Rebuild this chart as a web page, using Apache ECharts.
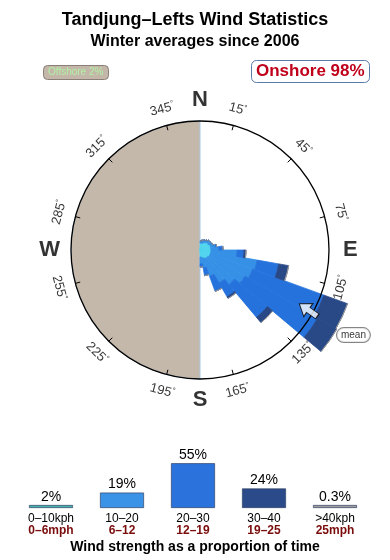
<!DOCTYPE html>
<html><head><meta charset="utf-8">
<script src="https://cdn.jsdelivr.net/npm/echarts@6/dist/echarts.min.js"></script>
<style>html,body{margin:0;padding:0;background:#fff}#c{width:390px;height:560px}</style>
</head><body><div id="c"></div>
<script>
// ---- data ----
// direction sectors (start bearing of each 10° sector)
const directions = Array.from({length:36}, (_, i) => (i*10) + '°');
// radial lengths of each speed band per sector (units: ring radius = 100)
const band0_10  = [5.4,5.4,6.2,7.0,7.8,7.8,8.5,8.5,8.5,8.5,8.5,8.5,8.5,7.8,7.8,7.0,6.2,5.4, 0,0,0,0,0,0,0,0,0,0,0,0,0,0,0,0,0,0];
const band10_20 = [1.6,2.4,2.3,2.3,2.3,2.3,2.4,3.9,6.2,20.2,36.5,34.9,31.8,27.1,21.7,14.7,7.8,5.4, 0,0,0,0,0,0,0,0,0,0,0,0,0,0,0,0,0,0];
const band20_30 = [0,0,0,0,0,0,0,0.8,3.1,5.4,17.0,58.9,65.1,33.3,12.4,12.4,6.2,2.4, 0,0,0,0,0,0,0,0,0,0,0,0,0,0,0,0,0,0];
const band30_40 = [0,0,0,0,0,0,0,0,0,1.6,7.8,19.4,17.1,5.4,1.5,0,0,0, 0,0,0,0,0,0,0,0,0,0,0,0,0,0,0,0,0,0];
const band40p   = [0,0,0,0,0,0,0,0,0,0,0,0,0,0,0,0,0,0, 0,0,0,0,0,0,0,0,0,0,0,0,0,0,0,0,0,0];

const speedKph = ['0–10kph','10–20','20–30','30–40','>40kph'];
const speedMph = ['0–6mph','6–12','12–19','19–25','25mph'];
const speedShare = [2, 19, 55, 24, 0.3];
const shareLabels = ['2%','19%','55%','24%','0.3%'];

const tickBearings = [15,45,75,105,135,165,195,225,255,285,315,345];
const cardinalNames = ['N','E','S','W'];
const cardinalBearings = [0,90,180,270];
const meanDirection = 119;
const offshorePct = 2, onshorePct = 98;
const offshoreArc = [180, 180]; // onshore half (E), offshore half (W)

// ---- styles ----
const FF = 'Liberation Sans, Arial, Helvetica, sans-serif';
const C = [200, 250], R = 129;
const roseColors = ['#50D4EE','#3590E6','#2672DC','#284886','#9a9a9a'];
const legendColors = ['#47B3AE','#3A93E6','#2B72DD','#2B4A8A','#9E9E9E'];
const OFFSET = 15; // angle axis 0 sits at bearing 15

function rot(b){ b = ((b%360)+360)%360; if (b < 90 || b > 270) return b > 270 ? 360-b : -b; return 180-b; }
function ang(b){ return ((b-OFFSET)%360+360)%360; }

const chart = echarts.init(document.getElementById('c'), null, {renderer:'canvas'});
const bands = [band0_10, band10_20, band20_30, band30_40, band40p];

const roseSeries = bands.map((d, k) => ({
  type:'bar', coordinateSystem:'polar', polarIndex:1, stack:'rose', data:d,
  barCategoryGap:'0%', barGap:'0%', clip:false, silent:true, z:3,
  itemStyle:{color:roseColors[k], borderColor:roseColors[k], borderWidth:0.8}
}));

chart.setOption({
  animation:false,
  textStyle:{fontFamily:FF},
  title:[
    {text:'Tandjung–Lefts Wind Statistics', left:'center', top:6, textStyle:{fontSize:18, fontWeight:'bold', color:'#000', fontFamily:FF}},
    {text:'Winter averages since 2006', left:'center', top:29, textStyle:{fontSize:16, fontWeight:'bold', color:'#000', fontFamily:FF}},
    {text:'Offshore ' + offshorePct + '%', left:43, top:65, padding:[2,5], backgroundColor:'#C3B7A9', borderColor:'#8a8078', borderWidth:1, borderRadius:4,
      textStyle:{fontSize:10, lineHeight:11, fontWeight:'normal', color:'#B2F2A4', fontFamily:FF}},
    {text:'Onshore ' + onshorePct + '%', left:251, top:60, padding:[2,5], backgroundColor:'#fff', borderColor:'#5A7AAA', borderWidth:1, borderRadius:5,
      textStyle:{fontSize:17, lineHeight:19, fontWeight:'bold', color:'#C0001A', fontFamily:FF}},
    {text:'Wind strength as a proportion of time', left:'center', top:535, textStyle:{fontSize:14, fontWeight:'bold', color:'#000', fontFamily:FF}}
  ],
  polar:[{center:C, radius:R}, {center:C, radius:R}],
  angleAxis:[
    {polarIndex:0, type:'value', min:0, max:360, interval:30, startAngle:90-OFFSET, clockwise:true, z:10,
      axisLine:{lineStyle:{color:'#000', width:1.3}}, axisTick:{inside:true, length:5, lineStyle:{color:'#000', width:1}},
      axisLabel:{show:false}, splitLine:{show:false}},
    {polarIndex:1, type:'category', data:directions, startAngle:90, clockwise:true, boundaryGap:true,
      axisLine:{show:false}, axisTick:{show:false}, axisLabel:{show:false}, splitLine:{show:false}}
  ],
  radiusAxis:[
    {polarIndex:0, type:'value', min:0, max:100, show:false},
    {polarIndex:1, type:'value', min:0, max:100, show:false}
  ],
  grid:{left:15.5, width:355, top:451, height:57},
  xAxis:{type:'category', data:speedKph, axisLine:{show:false}, axisTick:{show:false},
    axisLabel:{interval:0, margin:5, formatter:(v,i)=>'{k|'+speedKph[i]+'}\n{m|'+speedMph[i]+'}',
      rich:{k:{fontSize:12, lineHeight:12, color:'#000', fontFamily:FF}, m:{fontSize:12, lineHeight:12, fontWeight:'bold', color:'#7A0C0C', fontFamily:FF}}}},
  yAxis:{type:'value', min:0, max:70, show:false},
  series:[
    {type:'pie', center:C, radius:R, startAngle:90, clockwise:true, silent:true, z:1,
      label:{show:false}, labelLine:{show:false}, emphasis:{disabled:true},
      data:[{value:offshoreArc[0], itemStyle:{color:'rgba(0,0,0,0)'}},
            {value:offshoreArc[1], itemStyle:{color:'#C4B8AB', borderColor:'#A6C8EA', borderWidth:1}}]},
    ...roseSeries,
    {type:'scatter', coordinateSystem:'polar', polarIndex:0, symbolSize:0, clip:false, silent:true, z:11,
      data:tickBearings.map(b=>({value:[113, ang(b)], label:{rotate:rot(b), formatter:'{a|'+b+'}{d|°}'}})),
      label:{show:true, position:'inside', color:'#000',
        rich:{a:{fontSize:13, color:'#000', fontFamily:FF}, d:{fontSize:8, color:'#000', padding:[0,0,6,0], fontFamily:FF}}}},
    {type:'scatter', coordinateSystem:'polar', polarIndex:0, symbolSize:0, clip:false, silent:true, z:11,
      data:cardinalBearings.map((b,i)=>({value:[116.5, ang(b)], label:{formatter:cardinalNames[i]}})),
      label:{show:true, position:'inside', color:'#000', fontSize:22, fontWeight:'bold', fontFamily:FF}},
    {type:'scatter', coordinateSystem:'polar', polarIndex:0, clip:false, silent:true, z:12,
      symbol:'path://M0,-10 L8,0 L3,0 L3,10 L-3,10 L-3,0 L-8,0 Z', symbolSize:[16,22], symbolRotate:55,
      itemStyle:{color:'#fff', borderColor:'#000', borderWidth:1},
      data:[[96, ang(meanDirection)]]},
    {type:'scatter', coordinateSystem:'polar', polarIndex:0, symbolSize:0, clip:false, silent:true, z:12,
      data:[[136, ang(meanDirection)]],
      label:{show:true, position:'inside', formatter:'mean', fontSize:10, color:'#000', backgroundColor:'#fff',
        borderColor:'#666', borderWidth:1, borderRadius:7, padding:[2,4], fontFamily:FF}},
    {type:'bar', data:speedShare.map((v,i)=>({value:v, itemStyle:{color:legendColors[i]}})),
      barWidth:44, barMinHeight:3, silent:true,
      itemStyle:{borderColor:'#334466', borderWidth:0.7},
      label:{show:true, position:'top', distance:1, fontSize:14, color:'#000', fontFamily:FF,
        formatter:p=>shareLabels[p.dataIndex]}}
  ]
});
</script></body></html>
